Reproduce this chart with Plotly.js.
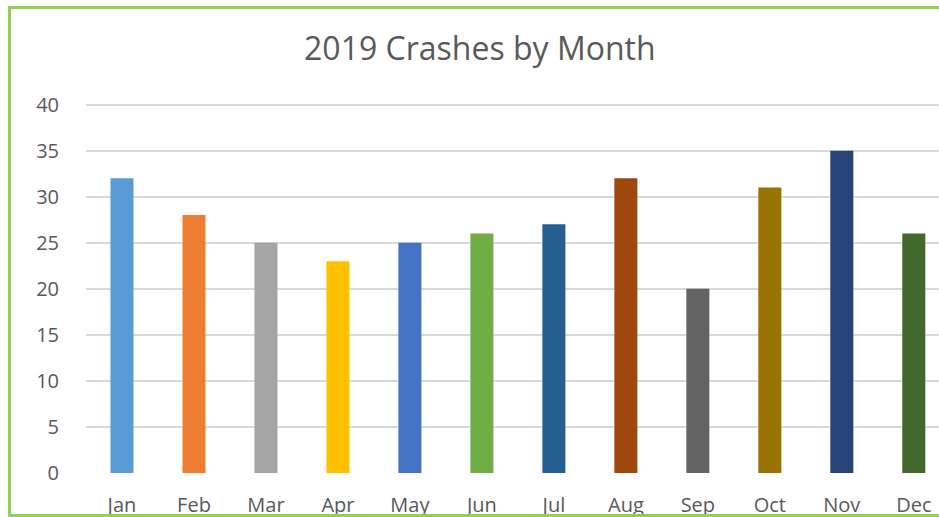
<!DOCTYPE html>
<html>
<head>
<meta charset="utf-8">
<script src="https://cdn.plot.ly/plotly-3.0.1.min.js"></script>
<style>
html,body{margin:0;padding:0;overflow:hidden;background:#fff;}
#chart{position:absolute;left:0;top:0;width:939px;height:517px;}
#frame{position:absolute;left:8px;top:6px;width:1000px;height:505px;border:3px solid #92d050;pointer-events:none;}
</style>
</head>
<body>
<div id="chart"></div>
<div id="frame"></div>
<script>
const months = ["Jan","Feb","Mar","Apr","May","Jun","Jul","Aug","Sep","Oct","Nov","Dec"];
const crashes = [32, 28, 25, 23, 25, 26, 27, 32, 20, 31, 35, 26];
const barColors = ["#5B9BD5","#ED7D31","#A5A5A5","#FFC000","#4472C4","#70AD47","#255E91","#9E480E","#636363","#997300","#264478","#43682B"];
const yTicks = [0,5,10,15,20,25,30,35,40];

const trace = {
  type: "bar",
  x: months,
  y: crashes,
  marker: {color: barColors, line: {width: 0}},
  hoverinfo: "x+y"
};

const layout = {
  width: 939, height: 517,
  margin: {l: 86, r: 0, t: 100, b: 44, pad: 0},
  paper_bgcolor: "rgba(0,0,0,0)",
  plot_bgcolor: "#fff",
  bargap: 0.68,
  showlegend: false,
  font: {family: "Open Sans, Noto Sans, sans-serif", color: "#595959"},
  title: {
    text: "2019 Crashes by Month",
    font: {size: 32, color: "#595959", family: "Open Sans, Noto Sans, sans-serif"},
    x: 0.511, xanchor: "center",
    y: 1 - 49/517, yref: "container", yanchor: "middle"
  },
  xaxis: {
    type: "category",
    range: [-0.5, 11.35],
    showgrid: false,
    zeroline: false,
    showline: false,
    ticks: "outside", ticklen: 14, tickcolor: "rgba(0,0,0,0)",
    tickfont: {size: 20, color: "#595959"},
    fixedrange: true
  },
  yaxis: {
    range: [0, 40.5],
    tickvals: yTicks,
    ticktext: yTicks.map(String),
    showgrid: true, gridcolor: "#d9d9d9", gridwidth: 2,
    zeroline: false, showline: false,
    ticks: "outside", ticklen: 22, tickcolor: "rgba(0,0,0,0)",
    tickfont: {size: 20, color: "#595959"},
    fixedrange: true
  }
};

Plotly.newPlot("chart", [trace], layout, {displayModeBar: false, staticPlot: true});
</script>
</body>
</html>
